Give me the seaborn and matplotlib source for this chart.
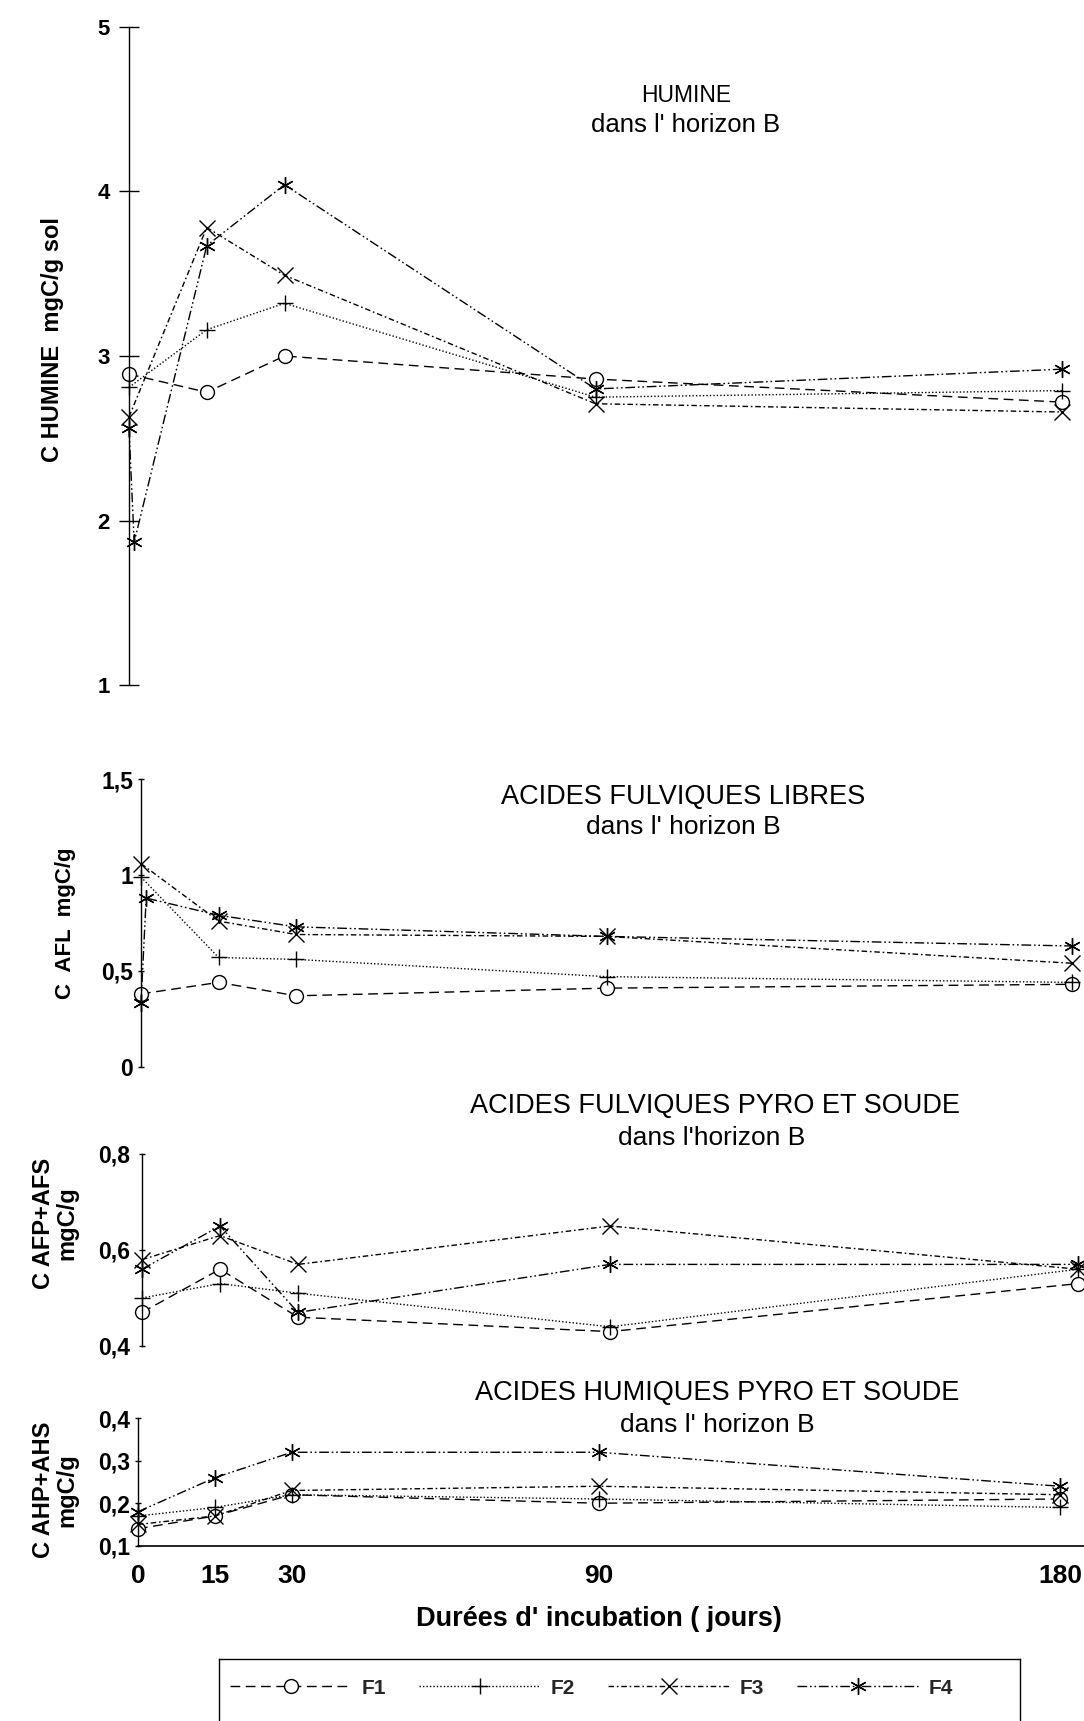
import numpy as np
import pandas as pd
import matplotlib
matplotlib.use("Agg")
import matplotlib.pyplot as plt
import seaborn as sns

# ---- data -------------------------------------------------------------
jours = [0, 1, 15, 30, 90, 180]
jours_ticks = [0, 15, 30, 90, 180]
nan = np.nan

humine_F1 = [2.89, nan, 2.78, 3.00, 2.86, 2.72]
humine_F2 = [2.81, nan, 3.16, 3.32, 2.75, 2.79]
humine_F3 = [2.63, nan, 3.78, 3.49, 2.71, 2.66]
humine_F4 = [2.56, 1.87, 3.67, 4.04, 2.80, 2.92]

afl_F1 = [0.38, nan, 0.44, 0.37, 0.41, 0.43]
afl_F2 = [0.99, nan, 0.57, 0.56, 0.47, 0.44]
afl_F3 = [1.06, nan, 0.76, 0.69, 0.68, 0.54]
afl_F4 = [0.33, 0.88, 0.79, 0.73, 0.68, 0.63]

afp_F1 = [0.47, nan, 0.56, 0.46, 0.43, 0.53]
afp_F2 = [0.50, nan, 0.53, 0.51, 0.44, 0.56]
afp_F3 = [0.58, nan, 0.63, 0.57, 0.65, 0.56]
afp_F4 = [0.56, nan, 0.65, 0.47, 0.57, 0.57]

ahp_F1 = [0.14, nan, 0.17, 0.22, 0.20, 0.21]
ahp_F2 = [0.17, nan, 0.19, 0.22, 0.21, 0.19]
ahp_F3 = [0.15, nan, 0.17, 0.23, 0.24, 0.22]
ahp_F4 = [0.18, nan, 0.26, 0.32, 0.32, 0.24]

series_names = ["F1", "F2", "F3", "F4"]

# ---- styles -----------------------------------------------------------
sns.set_theme(style="white")
plt.rcParams["font.family"] = ["Liberation Sans", "DejaVu Sans"]

MARKERS = {"F1": "o", "F2": "+", "F3": "x", "F4": (6, 2, 0)}
MSIZE = {"F1": 10, "F2": 12, "F3": 11, "F4": 12}
LSTYLE = {"F1": (0, (7, 4)),
          "F2": (0, (1, 1.5)),
          "F3": (0, (4, 2, 1.2, 2)),
          "F4": (0, (7, 2, 1.2, 2, 1.2, 2))}

W, H = 1084, 1721


def rect(left, top, right, bottom):
    return [left / W, 1 - bottom / H, (right - left) / W, (bottom - top) / H]


def draw_panel(ax, data):
    handles = []
    for name, vals in zip(series_names, data):
        df = pd.DataFrame({"jours": jours, "C": vals}).dropna()
        sns.lineplot(data=df, x="jours", y="C", ax=ax, estimator=None,
                     color="black", linewidth=1.0, linestyle=LSTYLE[name],
                     marker=MARKERS[name], markersize=MSIZE[name],
                     markerfacecolor="white", markeredgecolor="black",
                     markeredgewidth=1.0, clip_on=False)
        handles.append(ax.lines[-1])
    ax.set_xlabel("")
    ax.set_ylabel("")
    for s in ["top", "right", "bottom"]:
        ax.spines[s].set_visible(False)
    ax.spines["left"].set_color("black")
    ax.spines["left"].set_linewidth(1.0)
    ax.set_xticks([])
    return handles


fig = plt.figure(figsize=(W / 100, H / 100), dpi=100)

# HUMINE
ax1 = fig.add_axes(rect(129, 26.6, 1062, 685.4))
handles = draw_panel(ax1, [humine_F1, humine_F2, humine_F3, humine_F4])
ax1.set_xlim(0, 180)
ax1.set_ylim(1, 5)
ax1.set_yticks([1, 2, 3, 4, 5], ["1", "2", "3", "4", "5"])
ax1.tick_params(axis="y", direction="inout", length=14, width=1.0,
                labelsize=16, pad=7, left=True, color="black")

# ACIDES FULVIQUES LIBRES
ax2 = fig.add_axes(rect(141, 779.3, 1072, 1066.7))
draw_panel(ax2, [afl_F1, afl_F2, afl_F3, afl_F4])
ax2.set_xlim(0, 180)
ax2.set_ylim(0, 1.5)
ax2.set_yticks([0, 0.5, 1, 1.5], ["0", "0,5", "1", "1,5"])

# ACIDES FULVIQUES PYRO ET SOUDE
ax3 = fig.add_axes(rect(142, 1154, 1078, 1346))
draw_panel(ax3, [afp_F1, afp_F2, afp_F3, afp_F4])
ax3.set_xlim(0, 180)
ax3.set_ylim(0.4, 0.8)
ax3.set_yticks([0.4, 0.6, 0.8], ["0,4", "0,6", "0,8"])

# ACIDES HUMIQUES PYRO ET SOUDE
ax4 = fig.add_axes(rect(138, 1418.3, 1084, 1545.7))
draw_panel(ax4, [ahp_F1, ahp_F2, ahp_F3, ahp_F4])
ax4.set_xlim(0, 184.7)
ax4.set_ylim(0.1, 0.4)
ax4.set_yticks([0.1, 0.2, 0.3, 0.4], ["0,1", "0,2", "0,3", "0,4"])
ax4.spines["bottom"].set_visible(True)
ax4.spines["bottom"].set_color("black")
ax4.spines["bottom"].set_linewidth(1.2)
ax4.set_xticks(jours_ticks, [str(j) for j in jours_ticks])
ax4.tick_params(axis="x", length=0, labelsize=19, pad=13, bottom=True)

for ax, pad in [(ax2, 3), (ax3, 6), (ax4, 3)]:
    ax.tick_params(axis="y", direction="inout", length=5, width=1.0,
                   labelsize=16.5, pad=pad, left=True, color="black")

for ax in [ax1, ax2, ax3, ax4]:
    for lbl in ax.get_yticklabels() + ax.get_xticklabels():
        lbl.set_fontweight("bold")
        lbl.set_color("black")

# panel titles
titles = [
    (686, 95, "HUMINE", 16.5), (686, 125, "dans l' horizon B", 18.5),
    (683, 797, "ACIDES FULVIQUES LIBRES", 19.5), (683, 827, "dans l' horizon B", 19),
    (715, 1106, "ACIDES FULVIQUES PYRO ET SOUDE", 19.5), (712, 1138, "dans l'horizon B", 19),
    (717, 1393, "ACIDES HUMIQUES PYRO ET SOUDE", 19.5), (717, 1425, "dans l' horizon B", 19),
]
for x, y, t, fs in titles:
    fig.text(x / W, 1 - y / H, t, ha="center", va="center", fontsize=fs,
             color="black")

# y axis labels
ylabels = [
    (53, 340, "C HUMINE  mgC/g sol", 17),
    (66, 923, "C  AFL  mgC/g", 16),
    (55, 1223, "C AFP+AFS\nmgC/g", 17),
    (55, 1490, "C AHP+AHS\nmgC/g", 17),
]
for x, y, t, fs in ylabels:
    fig.text(x / W, 1 - y / H, t, rotation=90, ha="center", va="center",
             multialignment="center", fontsize=fs, fontweight="bold",
             linespacing=1.05, color="black")

# x axis label
fig.text(599 / W, 1 - 1619 / H, "Durées d' incubation ( jours)",
         ha="center", va="center", fontsize=19.5, fontweight="bold",
         color="black")

# legend box (bottom edge runs off the page)
lax = fig.add_axes(rect(219, 1659, 1020, 1730))
lax.set_xticks([])
lax.set_yticks([])
lax.patch.set_alpha(0)
for s in ["top", "left", "right"]:
    lax.spines[s].set_visible(True)
    lax.spines[s].set_color("black")
    lax.spines[s].set_linewidth(1.0)
lax.spines["bottom"].set_visible(False)
lax.legend(handles, series_names, loc="center", bbox_to_anchor=(0.465, 0.59),
           ncol=4, frameon=False, handlelength=5.8, handletextpad=0.5,
           columnspacing=1.6, numpoints=1,
           prop={"weight": "bold", "size": 15})

fig.savefig("out.png", dpi=100)
